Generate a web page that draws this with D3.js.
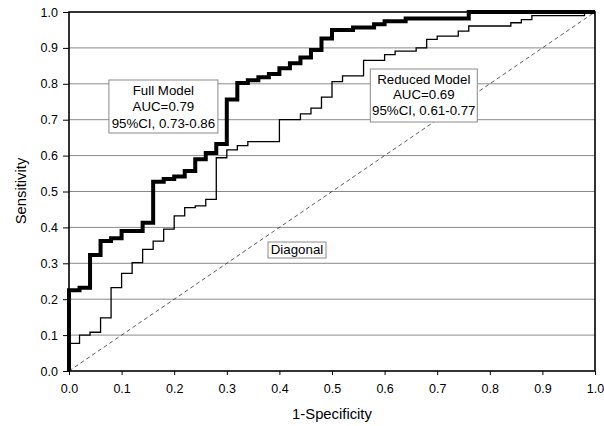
<!DOCTYPE html>
<html>
<head>
<meta charset="utf-8">
<script src="https://cdn.jsdelivr.net/npm/d3@7"></script>
<style>
  html, body { margin: 0; padding: 0; background: #fff; }
  svg { display: block; font-family: "Liberation Sans", Arial, sans-serif; }
</style>
</head>
<body>
<svg id="chart" width="604" height="426"></svg>
<script>
// ---- data ----
const tickValues = [0, 0.1, 0.2, 0.3, 0.4, 0.5, 0.6, 0.7, 0.8, 0.9, 1.0];
const tickLabels = ["0.0", "0.1", "0.2", "0.3", "0.4", "0.5", "0.6", "0.7", "0.8", "0.9", "1.0"];

// Full model ROC (step points: at fpr the sensitivity jumps to tpr)
const fullFpr = [0, 0, 0.02, 0.04, 0.06, 0.08, 0.10, 0.14, 0.16, 0.18, 0.20, 0.22, 0.24, 0.26, 0.28, 0.30,
                 0.32, 0.34, 0.36, 0.38, 0.40, 0.42, 0.44, 0.46, 0.48, 0.50, 0.54, 0.58, 0.60, 0.64, 0.76, 1.0];
const fullTpr = [0, 0.225, 0.232, 0.323, 0.362, 0.370, 0.390, 0.413, 0.527, 0.535, 0.542, 0.557, 0.590, 0.607, 0.632, 0.756,
                 0.802, 0.810, 0.818, 0.827, 0.843, 0.857, 0.873, 0.894, 0.926, 0.950, 0.957, 0.966, 0.974, 0.982, 1.0, 1.0];

// Reduced model ROC
const redFpr = [0, 0, 0.02, 0.04, 0.06, 0.08, 0.10, 0.12, 0.14, 0.16, 0.18, 0.20, 0.22, 0.24, 0.26, 0.28, 0.30, 0.32, 0.34,
                0.40, 0.44, 0.46, 0.48, 0.50, 0.52, 0.56, 0.60, 0.62, 0.66, 0.68, 0.70, 0.74, 0.76, 0.84, 0.86, 0.88, 0.98, 1.0];
const redTpr = [0, 0.077, 0.100, 0.108, 0.148, 0.232, 0.272, 0.302, 0.339, 0.362, 0.395, 0.432, 0.455, 0.460, 0.478, 0.594, 0.616, 0.628, 0.639,
                0.700, 0.716, 0.732, 0.763, 0.806, 0.822, 0.865, 0.881, 0.891, 0.900, 0.924, 0.933, 0.947, 0.961, 0.970, 0.979, 0.990, 1.0, 1.0];

const diagonal = [[0, 0], [1, 1]];

const fullLabel = ["Full Model", "AUC=0.79", "95%CI, 0.73-0.86"];
const redLabel = ["Reduced Model", "AUC=0.69", "95%CI, 0.61-0.77"];
const diagLabel = ["Diagonal"];
const xTitle = "1-Specificity";
const yTitle = "Sensitivity";

// ---- drawing ----
const svg = d3.select("#chart");
const x = d3.scaleLinear().domain([0, 1]).range([69, 595]);
const y = d3.scaleLinear().domain([0, 1]).range([371, 12]);

// gridlines
svg.append("g").selectAll("line")
  .data(tickValues.filter(v => v > 0 && v < 1))
  .join("line")
  .attr("x1", x(0)).attr("x2", x(1))
  .attr("y1", d => y(d)).attr("y2", d => y(d))
  .attr("stroke", "#8a8a8a").attr("stroke-width", 1);

// diagonal
const line = d3.line().x(d => x(d[0])).y(d => y(d[1]));
svg.append("path").datum(diagonal).attr("d", line)
  .attr("fill", "none").attr("stroke", "#333").attr("stroke-width", 0.8)
  .attr("stroke-dasharray", "4,3");

// ROC curves
const stepLine = d3.line().x(d => x(d[0])).y(d => y(d[1])).curve(d3.curveStepAfter);
const redPts = redFpr.map((v, i) => [v, redTpr[i]]);
const fullPts = fullFpr.map((v, i) => [v, fullTpr[i]]);
svg.append("path").datum(redPts).attr("d", stepLine)
  .attr("fill", "none").attr("stroke", "#000").attr("stroke-width", 1.3);
svg.append("path").datum(fullPts).attr("d", stepLine)
  .attr("fill", "none").attr("stroke", "#000").attr("stroke-width", 4)
  .attr("stroke-linejoin", "miter");

// axes
const yAxis = d3.axisLeft(y).tickValues(tickValues).tickFormat((d, i) => tickLabels[i]).tickSize(6).tickPadding(5);
const xAxis = d3.axisBottom(x).tickValues(tickValues).tickFormat((d, i) => tickLabels[i]).tickSize(4).tickPadding(9);
const gy = svg.append("g").attr("transform", `translate(${x(0)},0)`).call(yAxis);
const gx = svg.append("g").attr("transform", `translate(0,${y(0)})`).call(xAxis);
[gx, gy].forEach(g => {
  g.select(".domain").remove();
  g.selectAll(".tick line").attr("stroke", "#000").attr("stroke-width", 1);
  g.selectAll(".tick text").attr("fill", "#000").style("font-size", "12.5px")
   .style("font-family", '"Liberation Sans", Arial, sans-serif');
});

// frame
svg.append("rect")
  .attr("x", x(0)).attr("y", y(1))
  .attr("width", x(1) - x(0)).attr("height", y(0) - y(1))
  .attr("fill", "none").attr("stroke", "#000").attr("stroke-width", 1.6);

// label boxes
function labelBox(lines, cx, top, w, h, lineH, firstBaseline) {
  const g = svg.append("g");
  g.append("rect").attr("x", cx - w / 2).attr("y", top).attr("width", w).attr("height", h)
    .attr("fill", "#fff").attr("stroke", "#8a8a8a").attr("stroke-width", 1);
  g.selectAll("text").data(lines).join("text")
    .attr("x", cx).attr("y", (d, i) => firstBaseline + i * lineH)
    .attr("text-anchor", "middle").style("font-size", "13.3px").attr("fill", "#000")
    .text(d => d);
}
labelBox(fullLabel, x(0.1795), 80, 109, 53, 16.7, 94.5);
labelBox(redLabel, x(0.6745), 69, 107, 53, 15.8, 83.5);
labelBox(diagLabel, x(0.4335), 242, 58, 16, 0, 254);

// axis titles
svg.append("text").attr("x", 332).attr("y", 419).attr("text-anchor", "middle")
  .style("font-size", "14.8px").attr("fill", "#000").text(xTitle);
svg.append("text").attr("transform", "translate(26,191) rotate(-90)").attr("text-anchor", "middle")
  .style("font-size", "14.8px").attr("fill", "#000").text(yTitle);
</script>
</body>
</html>
